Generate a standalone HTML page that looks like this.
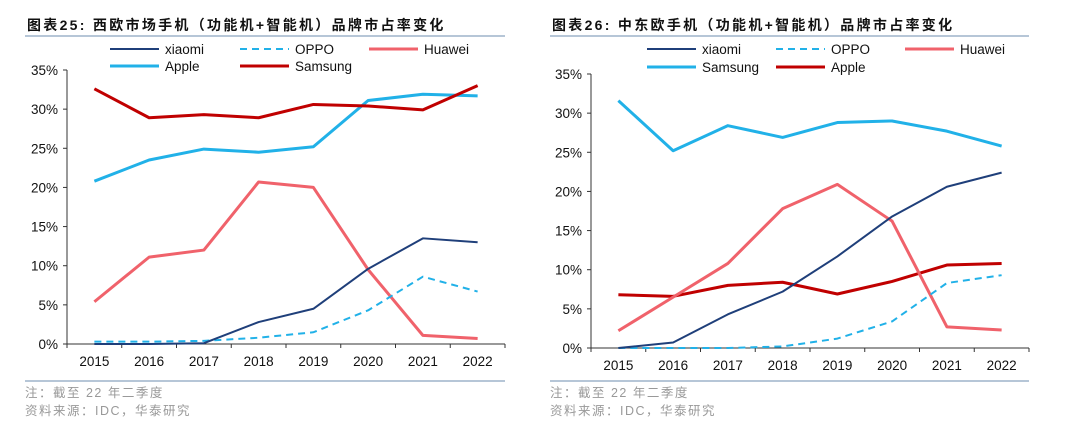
<!DOCTYPE html>
<html><head><meta charset="utf-8"><style>
body{margin:0;background:#fff;width:1080px;height:430px;overflow:hidden}
svg{display:block}
text{font-family:"Liberation Sans","Noto Sans CJK SC",sans-serif}
</style></head><body>
<svg id="s" width="1080" height="430"></svg>
<script>
const years=["2015","2016","2017","2018","2019","2020","2021","2022"];
const yTicks=[0,5,10,15,20,25,30,35];
const we_xiaomi=[0,0,0.1,2.8,4.5,9.6,13.5,13.0];
const we_oppo=[0.3,0.3,0.4,0.8,1.5,4.3,8.6,6.7];
const we_huawei=[5.4,11.1,12.0,20.7,20.0,9.5,1.1,0.7];
const we_apple=[20.8,23.5,24.9,24.5,25.2,31.1,31.9,31.7];
const we_samsung=[32.6,28.9,29.3,28.9,30.6,30.4,29.9,33.0];
const ce_xiaomi=[0,0.7,4.3,7.2,11.7,16.8,20.6,22.4];
const ce_oppo=[0,0,0,0.2,1.2,3.4,8.3,9.3];
const ce_huawei=[2.2,6.5,10.8,17.8,20.9,16.2,2.7,2.3];
const ce_samsung=[31.6,25.2,28.4,26.9,28.8,29.0,27.7,25.8];
const ce_apple=[6.8,6.6,8.0,8.4,6.9,8.5,10.6,10.8];

const NS="http://www.w3.org/2000/svg",svg=document.getElementById('s');
function el(t,a,txt){const e=document.createElementNS(NS,t);for(const k in a)e.setAttribute(k,a[k]);if(txt!=null)e.textContent=txt;svg.appendChild(e);return e;}
const C={navy:"#1f3f7a",blue:"#21b1e8",pink:"#f0626b",red:"#c00000"};

function chart(o){
  const x=i=>o.x0+(o.x1-o.x0)/years.length*(i+0.5);
  const y=v=>o.y0-(o.y0-o.yTop)*v/35;
  let e=el('text',{x:o.tx,y:30,'font-size':14,'font-weight':'bold',fill:'#111','letter-spacing':o.ls},o.title);
  
  e=el('line',{x1:o.lx0,x2:o.lx1,y1:36,y2:36,stroke:'#8aa5bf','stroke-width':1.2});
  
  e=el('line',{x1:o.lx0,x2:o.lx1,y1:381,y2:381,stroke:'#8aa5bf','stroke-width':1.2});
  
  e=el('text',{x:o.lx0,y:397,'font-size':12.5,fill:'#999','letter-spacing':1.5},'注：截至 22 年二季度');
  
  e=el('text',{x:o.lx0,y:415,'font-size':12.5,fill:'#999','letter-spacing':1.5},'资料来源：IDC，华泰研究');
  
  e=el('line',{x1:o.x0,x2:o.x0,y1:o.yTop,y2:o.y0,stroke:'#333','stroke-width':1});
  
  e=el('line',{x1:o.x0,x2:o.x1,y1:o.y0,y2:o.y0,stroke:'#333','stroke-width':1});
  
  yTicks.forEach(t=>{
    el('line',{x1:o.x0-4,x2:o.x0,y1:y(t),y2:y(t),stroke:'#333'});
    const l=el('text',{x:o.x0-9,y:y(t)+5,'font-size':13.5,'text-anchor':'end',fill:'#111'},t+'%');
    
  });
  years.forEach((yr,i)=>{
    const bx=o.x0+(o.x1-o.x0)/years.length*i;
    el('line',{x1:bx,x2:bx,y1:o.y0,y2:o.y0+4,stroke:'#333'});
    const l=el('text',{x:x(i),y:o.y0+22,'font-size':13.5,'text-anchor':'middle',fill:'#111'},yr);
    
  });
  el('line',{x1:o.x1,x2:o.x1,y1:o.y0,y2:o.y0+4,stroke:'#333'});
  o.series.forEach(s=>{
    const p=el('polyline',{points:s.data.map((v,i)=>x(i)+','+y(v)).join(' '),fill:'none',stroke:s.c,'stroke-width':s.w,'stroke-dasharray':s.dash||'none','stroke-linejoin':'round'});
    
    const lg=el('line',{x1:s.lx,x2:s.lx+49,y1:s.ly,y2:s.ly,stroke:s.c,'stroke-width':s.w,'stroke-dasharray':s.dash||'none'});
    
    const lt=el('text',{x:s.lx+55,y:s.ly+5,'font-size':13.5,fill:'#111'},s.n);
    
  });
}
chart({title:'图表25:  西欧市场手机（功能机+智能机）品牌市占率变化',tx:27,ls:2.3,lx0:25,lx1:505,x0:67,x1:505,y0:344,yTop:70,
 series:[
 {n:'Apple',data:we_apple,c:C.blue,w:3,lx:110,ly:66},
 {n:'Samsung',data:we_samsung,c:C.red,w:3,lx:240,ly:66},
 {n:'Huawei',data:we_huawei,c:C.pink,w:3,lx:369,ly:49},
 {n:'OPPO',data:we_oppo,c:C.blue,w:2,dash:'7,5',lx:240,ly:49},
 {n:'xiaomi',data:we_xiaomi,c:C.navy,w:2,lx:110,ly:49}]});
chart({title:'图表26:   中东欧手机（功能机+智能机）品牌市占率变化',tx:552,ls:2.3,lx0:550,lx1:1029,x0:591,x1:1029,y0:348,yTop:74,
 series:[
 {n:'Samsung',data:ce_samsung,c:C.blue,w:3,lx:647,ly:67},
 {n:'Apple',data:ce_apple,c:C.red,w:3,lx:776,ly:67},
 {n:'Huawei',data:ce_huawei,c:C.pink,w:3,lx:905,ly:49},
 {n:'OPPO',data:ce_oppo,c:C.blue,w:2,dash:'7,5',lx:776,ly:49},
 {n:'xiaomi',data:ce_xiaomi,c:C.navy,w:2,lx:647,ly:49}]});
</script>
</body></html>
